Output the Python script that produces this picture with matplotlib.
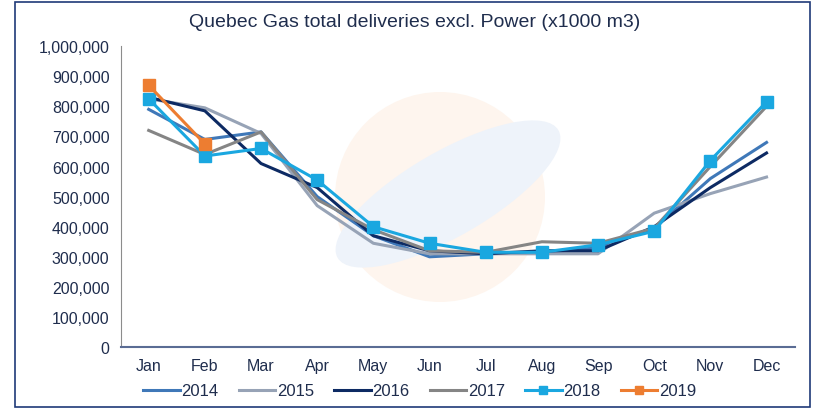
import numpy as np
import matplotlib
matplotlib.use('Agg')
import matplotlib.pyplot as plt
from matplotlib.patches import Rectangle, Ellipse
from matplotlib.ticker import FuncFormatter

months = ['Jan', 'Feb', 'Mar', 'Apr', 'May', 'Jun', 'Jul', 'Aug', 'Sep', 'Oct', 'Nov', 'Dec']

y2014 = [790000, 690000, 715000, 500000, 370000, 300000, 310000, 315000, 330000, 395000, 560000, 680000]
y2015 = [825000, 795000, 710000, 470000, 345000, 310000, 310000, 310000, 310000, 445000, 510000, 565000]
y2016 = [830000, 785000, 610000, 530000, 370000, 320000, 310000, 320000, 320000, 400000, 530000, 645000]
y2017 = [720000, 640000, 715000, 490000, 390000, 320000, 315000, 350000, 345000, 395000, 600000, 800000]
y2018 = [825000, 635000, 660000, 555000, 400000, 345000, 315000, 315000, 340000, 385000, 620000, 815000]
y2019 = [870000, 675000]

plt.rcParams['font.family'] = ['Liberation Sans', 'DejaVu Sans']
txt = '#1f2d4d'

fig = plt.figure(figsize=(8.15, 4.10), dpi=100)
W, H = 815, 410

# faint watermark behind the plot (pixel positions -> inches)
inch = fig.dpi_scale_trans
fig.patches.append(Ellipse((4.40, (H - 198) / 100), 2.10, 2.10, transform=inch,
                           facecolor='#fef5ee', edgecolor='none', zorder=0))
fig.patches.append(Ellipse((4.48, (H - 195) / 100), 2.55, 0.85, angle=30, transform=inch,
                           facecolor='#eef3fa', edgecolor='none', zorder=0))

ax = fig.add_axes([0.148, 0.151, 0.827, 0.734])
ax.set_zorder(2)
ax.patch.set_alpha(0)

x = np.arange(len(months))
ax.plot(x, y2014, color='#3f78b8', lw=2.2, label='2014')
ax.plot(x, y2015, color='#97a3b6', lw=2.2, label='2015')
ax.plot(x, y2016, color='#0d2a63', lw=2.2, label='2016')
ax.plot(x, y2017, color='#858585', lw=2.2, label='2017')
ax.plot(x, y2018, color='#1aa7e0', lw=2.2, marker='s', ms=8, label='2018')
ax.plot(x[:len(y2019)], y2019, color='#ed7d31', lw=2.2, marker='s', ms=8, label='2019')

ax.set_xlim(-0.5, 11.5)
ax.set_ylim(0, 1000000)
ax.set_yticks(np.arange(0, 1000001, 100000))
ax.yaxis.set_major_formatter(FuncFormatter(lambda v, p: '{:,.0f}'.format(v)))
ax.set_xticks(x)
ax.set_xticklabels(months)
ax.tick_params(length=0, labelsize=11.5, colors=txt, pad=8)

for s in ['top', 'right']:
    ax.spines[s].set_visible(False)
ax.spines['left'].set_color('#8c8c8c')
ax.spines['bottom'].set_color('#5a6c94')
ax.spines['bottom'].set_linewidth(1.5)

fig.text(0.509, 0.945, 'Quebec Gas total deliveries excl. Power (x1000 m3)', ha='center', va='center',
         fontsize=14, color=txt)

fig.legend(loc='center', bbox_to_anchor=(0.515, 0.044), ncol=6, frameon=False,
           fontsize=12, handlelength=2.2, handletextpad=0.1, columnspacing=1.2,
           labelcolor=txt, markerscale=0.8)

fig.patches.append(Rectangle((15 / W, 0.004), 795 / W, 0.988, transform=fig.transFigure,
                             fill=False, edgecolor='#1f3a78', lw=1.2))

fig.savefig('out.png', dpi=100)
